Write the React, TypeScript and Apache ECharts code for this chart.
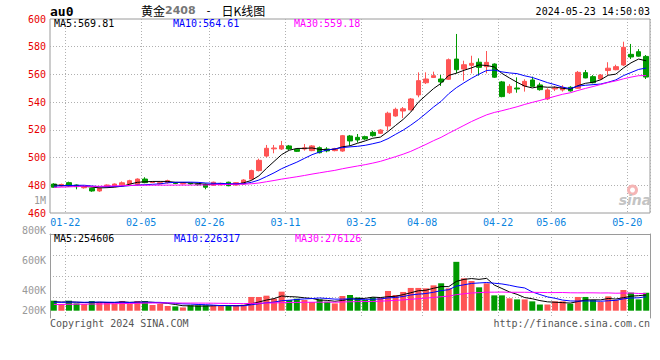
import React, { useEffect, useRef } from 'react';
import * as echarts from 'echarts';

// ---------- data ----------
const dates = ['01-19','01-22','01-23','01-24','01-25','01-26','01-29','01-30','01-31','02-01','02-02','02-05','02-06','02-07','02-08','02-19','02-20','02-21','02-22','02-23','02-26','02-27','02-28','02-29','03-01','03-04','03-05','03-06','03-07','03-08','03-11','03-12','03-13','03-14','03-15','03-18','03-19','03-20','03-21','03-22','03-25','03-26','03-27','03-28','03-29','04-01','04-02','04-03','04-08','04-09','04-10','04-11','04-12','04-15','04-16','04-17','04-18','04-19','04-22','04-23','04-24','04-25','04-26','04-29','04-30','05-06','05-07','05-08','05-09','05-10','05-13','05-14','05-15','05-16','05-17','05-20','05-21','05-22','05-23'];

const opens = [480.9,479.5,481.9,480.2,478.2,477.8,475.9,479.0,479.0,480.3,
  480.9,480.7,484.5,482.0,481.0,481.9,481.7,481.0,481.4,481.0,
  480.9,480.0,480.3,482.2,480.2,480.9,484.5,490.6,501.1,506.3,
  506.2,508.4,506.0,506.2,505.0,507.1,506.2,505.0,504.7,515.6,
  514.6,515.1,518.2,517.5,522.8,530.0,533.6,534.4,545.2,554.0,
  557.8,556.7,556.5,571.1,563.9,566.6,568.8,565.6,567.5,554.6,
  546.8,550.2,551.7,556.0,552.4,542.3,549.5,548.8,550.7,550.0,
  561.3,558.4,556.7,562.8,563.4,566.8,574.5,576.4,573.0];

const closes = [478.6,480.6,479.5,479.0,478.5,475.9,477.8,480.2,480.9,481.8,
  483.3,484.5,481.9,482.3,481.9,483.3,481.3,481.3,481.0,480.4,
  478.6,482.2,481.4,479.7,481.9,483.8,490.6,498.0,506.7,506.9,
  508.6,506.2,504.5,507.0,508.4,503.5,504.8,506.4,515.8,512.0,
  512.7,513.4,515.8,519.9,532.0,534.8,535.2,542.3,555.5,556.7,
  559.1,554.6,570.6,563.4,567.0,568.0,565.1,568.7,558.0,544.0,
  551.4,549.5,555.0,551.4,549.0,548.8,550.2,550.7,548.1,561.5,
  557.5,554.0,559.5,564.5,565.6,579.6,572.6,573.2,558.1];

const lows = [478.2,479.0,479.0,477.1,477.6,475.3,475.3,478.6,478.6,479.6,
  480.5,480.3,481.5,481.6,480.6,481.2,480.8,480.6,480.5,479.8,
  477.1,479.6,480.0,479.3,479.8,480.5,484.0,490.0,500.2,503.1,
  505.5,505.5,504.0,505.0,504.6,503.0,503.8,504.5,504.2,508.6,
  510.8,512.8,515.1,517.0,519.4,529.5,528.5,534.0,543.5,553.1,
  557.4,551.7,556.0,560.8,555.5,560.8,559.1,560.8,557.5,543.5,
  545.9,546.8,547.6,551.0,548.3,541.5,548.0,547.6,547.6,549.5,
  557.2,553.6,556.0,559.6,563.0,566.1,571.1,572.8,556.7];

const highs = [481.5,481.2,482.6,480.6,479.0,478.2,478.5,480.6,481.3,482.8,
  484.0,485.0,485.8,482.8,482.3,484.0,482.3,481.8,481.8,481.4,
  481.3,482.6,481.9,482.6,482.3,484.4,491.3,499.2,509.1,509.1,
  512.0,509.1,506.5,509.8,509.0,508.0,507.5,507.0,516.3,516.3,
  517.0,515.8,519.4,520.5,533.1,536.0,536.5,543.0,561.5,561.5,
  562.0,559.6,571.5,589.2,569.9,573.5,571.6,576.9,568.0,555.3,
  553.0,557.9,556.5,558.4,554.0,550.0,551.5,552.2,551.5,562.5,
  563.2,559.5,560.3,568.8,567.0,583.6,582.0,578.3,574.0];

const volumes = [162000,108000,162000,118000,108000,157000,141000,141000,118000,157000,
  118000,157000,157000,92000,108000,76000,70000,53000,86000,86000,
  86000,86000,76000,86000,76000,97000,222000,222000,243000,194000,
  308000,173000,194000,173000,141000,183000,146000,118000,238000,254000,
  215000,173000,215000,206000,319000,254000,303000,368000,368000,362000,
  410000,443000,362000,790000,524000,480000,378000,443000,248000,248000,
  200000,183000,183000,151000,100000,100000,151000,151000,113610,222000,
  222000,173000,141000,232140,173000,335000,292000,183000,290030];

// closes / volumes of the 29 sessions before the first visible one (for the moving averages)
const priorCloses = [477,473,472,471,479,477,476,476,478,478,480,481,481,482,483,480,481,481,478,478,478,477,478,478,481,483,481,479,480];
const priorVolumes = [90000,85000,80000,95000,110000,85000,75000,70000,80000,75000,70000,60000,65000,70000,80000,75000,85000,95000,100000,110000,120000,125000,130000,128000,135000,140000,150000,138000,140000];

const dateTicks = ['01-22','02-05','02-26','03-11','03-25','04-08','04-22','05-06','05-20'];
const priceMin = 460;
const priceMax = 600;
const priceStep = 20;
const volLabelMin = 200000;
const volLabelMax = 1000000;
const volLabelStep = 200000;
const volMax = 1240000;

const codeText = 'au0';
const nameText = '黄金';
const contractText = '2408';
const dashText = ' - ';
const suffixText = '日K线图';
const timeText = '2024-05-23 14:50:03';
const priceHeader = ['MA5:569.81', 'MA10:564.61', 'MA30:559.18'];
const volumeHeader = ['MA5:254606', 'MA10:226317', 'MA30:276126'];
const copyrightText = 'Copyright 2024 SINA.COM';
const urlText = 'http://finance.sina.com.cn';

// ---------- styles ----------
const MONO = '"DejaVu Sans Mono", "Liberation Mono", monospace';
const RED = '#ff5555';
const GREEN = '#009a00';
const FRAME = '#9a9a9a';
const DOT = { color: '#b0b0b0', width: 1, type: [1, 2] as any };
const MA_COLORS = ['#000000', '#0000ff', '#ff00ff'];

function movingAverage(values: number[], prior: number[], n: number): number[] {
  const all = prior.concat(values);
  return values.map((_, i) => {
    const end = prior.length + i;
    let s = 0;
    for (let k = end - n + 1; k <= end; k++) s += all[k];
    return Math.round((s / n) * 100) / 100;
  });
}

function buildOption(): any {
  const tickSet = new Set(dateTicks);
  const labelInterval = (i: number) => tickSet.has(dates[i]);
  const lineInterval = (i: number) => i > 0 && tickSet.has(dates[i - 1]);

  const ma = [5, 10, 30].map((n) => movingAverage(closes, priorCloses, n));
  const vma = [5, 10, 30].map((n) => movingAverage(volumes, priorVolumes, n));

  const maSeries = (data: number[], k: number, xi: number, yi: number) => ({
    type: 'line', xAxisIndex: xi, yAxisIndex: yi, data, symbol: 'none', showSymbol: false,
    silent: true, lineStyle: { color: MA_COLORS[k], width: 1 }, z: 3,
  });

  const txt = (text: string, x: number, y: number, fill: string, align = 'left', font = `10px ${MONO}`) => ({
    type: 'text', x, y, z: 20, silent: true,
    style: { text, fill, font, textAlign: align, align, textVerticalAlign: 'middle', verticalAlign: 'middle' },
  });
  const hdrX = [54, 173, 294];

  return {
    animation: false,
    backgroundColor: '#ffffff',
    grid: [
      { left: 50, top: 19, width: 600, height: 194, show: true, borderColor: FRAME, borderWidth: 1, backgroundColor: 'transparent' },
      { left: 50, top: 234, width: 600, height: 76.7 },
      { left: 50, top: 234, width: 600, height: 84 },
      { left: 50, top: 200.7, width: 600, height: 120 },
    ],
    xAxis: [
      {
        gridIndex: 0, type: 'category', data: dates, boundaryGap: true,
        axisLine: { show: false, onZero: false }, axisTick: { show: false },
        axisLabel: { interval: labelInterval, color: '#0a84e0', fontFamily: MONO, fontSize: 10, margin: 4, padding: [0, 0, 0, 7.6] },
        splitLine: { show: true, interval: lineInterval, lineStyle: DOT },
      },
      { gridIndex: 1, type: 'category', data: dates, boundaryGap: true, show: false },
      {
        gridIndex: 2, type: 'category', data: dates, boundaryGap: true, position: 'top',
        axisLine: { show: true, onZero: false, lineStyle: { color: FRAME, width: 1 } }, axisTick: { show: false },
        axisLabel: { show: false },
        splitLine: { show: true, interval: lineInterval, lineStyle: DOT },
      },
      { gridIndex: 3, type: 'value', min: 0, max: 1, show: false },
    ],
    yAxis: [
      {
        gridIndex: 0, type: 'value', min: priceMin, max: priceMax, interval: priceStep,
        axisLine: { show: false }, axisTick: { show: false },
        axisLabel: { color: '#e80000', fontFamily: MONO, fontSize: 10, margin: 4, padding: [0, 0, 3, 0] },
        splitLine: { show: true, showMinLine: false, showMaxLine: false, lineStyle: DOT },
      },
      { gridIndex: 1, type: 'value', min: 0, max: volMax, show: false },
      {
        gridIndex: 2, type: 'value', min: 0, max: 4, interval: 1,
        axisLine: { show: true, lineStyle: { color: FRAME, width: 1 } }, axisTick: { show: false },
        axisLabel: { show: false },
        splitLine: { show: true, showMinLine: false, showMaxLine: false, lineStyle: DOT },
      },
      {
        gridIndex: 2, type: 'value', min: 0, max: 4, interval: 1, position: 'right',
        axisLine: { show: true, lineStyle: { color: FRAME, width: 1 } }, axisTick: { show: false },
        axisLabel: { show: false }, splitLine: { show: false },
      },
      {
        gridIndex: 3, type: 'value', min: volLabelMin, max: volLabelMax, interval: volLabelStep,
        axisLine: { show: false }, axisTick: { show: false }, splitLine: { show: false },
        axisLabel: {
          color: '#999999', fontFamily: MONO, fontSize: 10, margin: 4,
          showMinLabel: true, showMaxLabel: true,
          formatter: (v: number) => {
            const s = v >= 1000000 ? v / 1000000 + 'M' : v / 1000 + 'K';
            return v === volLabelMin ? `{lift|${s}}` : s;
          },
          rich: { lift: { padding: [0, 0, 20, 0], color: '#999999', fontFamily: MONO, fontSize: 10 } },
        },
      },
    ],
    series: [
      {
        type: 'candlestick', xAxisIndex: 0, yAxisIndex: 0,
        data: dates.map((_, i) => [opens[i], closes[i], lows[i], highs[i]]),
        barWidth: 5,
        itemStyle: { color: RED, color0: GREEN, borderColor: RED, borderColor0: GREEN, borderWidth: 1 },
        z: 2,
      },
      ...ma.map((d, k) => maSeries(d, k, 0, 0)),
      {
        type: 'bar', xAxisIndex: 1, yAxisIndex: 1, barWidth: 6, silent: true,
        data: volumes.map((v, i) => ({ value: v, itemStyle: { color: closes[i] >= opens[i] ? RED : GREEN } })),
        z: 2,
      },
      ...vma.map((d, k) => maSeries(d, k, 1, 1)),
    ],
    graphic: [
      txt(codeText, 50, 11.5, '#000', 'left', `bold 13px ${MONO}`),
      {
        type: 'text', x: 141, y: 10.5, z: 20, silent: true,
        style: {
          text: `{c|${nameText}}{n|${contractText}}{d|${dashText}}{c|${suffixText}}`,
          textVerticalAlign: 'middle', verticalAlign: 'middle',
          rich: {
            c: { fill: '#000', fontSize: 12, fontFamily: '"Noto Sans CJK SC"' },
            n: { fill: '#777', fontSize: 11, fontWeight: 'bold', fontFamily: '"DejaVu Sans"' },
            d: { fill: '#000', fontSize: 11, fontFamily: MONO, padding: [0, 3, 0, 3] },
          },
        },
      },
      txt(timeText, 650, 11.7, '#000', 'right'),
      ...priceHeader.map((t, k) => txt(t, hdrX[k], 23.7, MA_COLORS[k])),
      ...volumeHeader.map((t, k) => txt(t, hdrX[k] + (k > 0 ? 1 : 0), 238.7, MA_COLORS[k])),
      txt(copyrightText, 50, 323.5, '#555'),
      txt(urlText, 650, 323.5, '#555', 'right'),
      { type: 'ring', z: 1, silent: true, shape: { cx: 632.5, cy: 190, r: 5.5, r0: 2.5 }, style: { fill: '#f5b5b5' } },
      txt('sina', 635, 200, '#c4c4c4', 'center', `italic bold 14px "DejaVu Sans"`),
    ],
  };
}

export default function App() {
  const ref = useRef<HTMLDivElement>(null);
  useEffect(() => {
    document.body.style.margin = '0';
    const chart = echarts.init(ref.current as HTMLDivElement, null, { renderer: 'svg' });
    chart.setOption(buildOption());
    return () => chart.dispose();
  }, []);
  return (
    <div
      ref={ref}
      style={{ position: 'absolute', left: 0, top: 0, width: 660, height: 360, background: '#fff' }}
    />
  );
}
